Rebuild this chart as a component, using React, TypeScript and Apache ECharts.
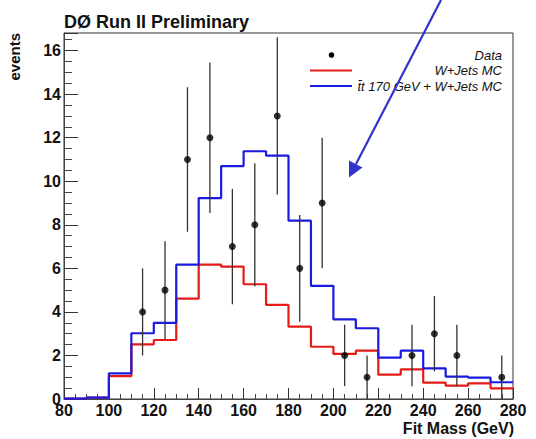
import React, { useEffect, useRef } from "react";
import * as echarts from "echarts";

// Histogram bin lower edges (GeV), bins 10 GeV wide, last upper edge 280
const binLowEdges = [80, 90, 100, 110, 120, 130, 140, 150, 160, 170, 180, 190, 200, 210, 220, 230, 240, 250, 260, 270];
const lastEdge = 280;
const wJetsMC = [0.02, 0.06, 1.05, 2.51, 2.71, 4.61, 6.17, 6.08, 5.27, 4.32, 3.32, 2.4, 2.07, 2.22, 1.12, 1.36, 0.75, 0.61, 0.72, 0.49];
const ttPlusWJetsMC = [0.02, 0.06, 1.18, 3.02, 3.5, 6.17, 9.23, 10.7, 11.38, 11.18, 8.19, 5.2, 3.66, 3.25, 1.9, 2.22, 1.41, 1.03, 0.98, 0.77];

// Data points (bin centres), counts and error bars
const dataX = [115, 125, 135, 145, 155, 165, 175, 185, 195, 205, 215, 235, 245, 255, 275];
const dataY = [4, 5, 11, 12, 7, 8, 13, 6, 9, 2, 1, 2, 3, 2, 1];
const dataErr = [2, 2.24, 3.32, 3.46, 2.65, 2.83, 3.61, 2.45, 3, 1.41, 1, 1.41, 1.73, 1.41, 1];

const title = "D\u00d8 Run II Preliminary";
const xTitle = "Fit Mass (GeV)";
const yTitle = "events";
const legendNames = ["Data", "W+Jets MC", "t\u0304t 170 GeV + W+Jets MC"];

const RED = "#e41b17";
const BLUE = "#1a1ae0";
const FONT = "Liberation Sans, Arial, Helvetica, sans-serif";

function stepData(vals: number[]) {
  const d = binLowEdges.map((e, i) => [e, vals[i]]);
  d.push([lastEdge, vals[vals.length - 1]]);
  return d;
}

export default function App() {
  const ref = useRef<HTMLDivElement>(null);
  useEffect(() => {
    document.body.style.margin = "0";
    const chart = echarts.init(ref.current!, null, { renderer: "svg" });
    const legendText = (text: string, y: number) => ({
      type: "text",
      x: 502,
      y,
      style: {
        text,
        fontFamily: FONT,
        fontSize: 13,
        fontStyle: "italic",
        fill: "#111",
        textAlign: "right",
        textVerticalAlign: "middle",
      },
    });
    const option: any = {
      animation: false,
      backgroundColor: "#ffffff",
      title: {
        text: title,
        left: 59,
        top: 8,
        textStyle: { fontFamily: FONT, fontSize: 18, fontWeight: "bold", color: "#111", lineHeight: 18 },
      },
      grid: {
        left: 64,
        right: 23,
        top: 33,
        bottom: 40,
        show: true,
        borderColor: "#333",
        borderWidth: 1,
        backgroundColor: "transparent",
      },
      xAxis: {
        type: "value",
        min: 80,
        max: 280,
        interval: 20,
        axisLine: { show: true, lineStyle: { color: "#444", width: 1 } },
        axisTick: { show: true, inside: true, length: 11, lineStyle: { color: "#333" } },
        minorTick: { show: true, splitNumber: 4, length: 5, lineStyle: { color: "#444" } },
        splitLine: { show: false },
        axisLabel: {
          fontFamily: FONT,
          fontSize: 16,
          fontWeight: "bold",
          color: "#111",
          margin: 5,
          lineHeight: 13,
        },
      },
      yAxis: {
        type: "value",
        min: 0,
        max: 16.81,
        interval: 2,
        axisLine: { show: true, lineStyle: { color: "#444", width: 1 } },
        axisTick: { show: true, inside: true, length: 14, lineStyle: { color: "#333" } },
        minorTick: { show: true, splitNumber: 4, length: 8, lineStyle: { color: "#444" } },
        splitLine: { show: false },
        axisLabel: {
          fontFamily: FONT,
          fontSize: 16,
          fontWeight: "bold",
          color: "#111",
          margin: 3,
          lineHeight: 10,
          showMaxLabel: false,
        },
      },
      graphic: [
        {
          type: "text",
          x: 14,
          y: 33,
          rotation: Math.PI / 2,
          style: {
            text: yTitle,
            fontFamily: FONT,
            fontSize: 15,
            fontWeight: "bold",
            fill: "#111",
            textAlign: "right",
            textVerticalAlign: "middle",
          },
        },
        {
          type: "text",
          x: 514,
          y: 428,
          style: {
            text: xTitle,
            fontFamily: FONT,
            fontSize: 16,
            lineHeight: 13,
            fontWeight: "bold",
            fill: "#111",
            textAlign: "right",
            textVerticalAlign: "middle",
          },
        },
        // legend
        { type: "circle", shape: { cx: 331.5, cy: 55, r: 2.8 }, style: { fill: "#000" } },
        { type: "line", shape: { x1: 310, y1: 70.5, x2: 352, y2: 70.5 }, style: { stroke: RED, lineWidth: 2 } },
        { type: "line", shape: { x1: 310, y1: 86, x2: 352, y2: 86 }, style: { stroke: BLUE, lineWidth: 2 } },
        legendText(legendNames[0], 55),
        legendText(legendNames[1], 70.5),
        legendText(legendNames[2], 86.5),
        // annotation arrow
        {
          type: "line",
          shape: { x1: 441, y1: 0, x2: 356, y2: 164 },
          style: { stroke: "#3333cc", lineWidth: 2.2 },
          z: 100,
        },
        {
          type: "polygon",
          shape: { points: [[349, 177.5], [349, 160.5], [362.5, 167.5]] },
          style: { fill: "#3333cc" },
          z: 100,
        },
      ],
      series: [
        {
          name: legendNames[1],
          type: "line",
          step: "end",
          data: stepData(wJetsMC),
          symbol: "none",
          lineStyle: { color: RED, width: 2.2 },
          z: 3,
        },
        {
          name: legendNames[2],
          type: "line",
          step: "end",
          data: stepData(ttPlusWJetsMC),
          symbol: "none",
          lineStyle: { color: BLUE, width: 2.2 },
          z: 4,
        },
        {
          name: legendNames[0] + " errors",
          type: "custom",
          data: dataX.map((x, i) => [x, dataY[i], dataErr[i]]),
          encode: { x: 0, y: 1 },
          renderItem: (params: any, api: any) => {
            const x = api.value(0);
            const y = api.value(1);
            const e = api.value(2);
            const p1 = api.coord([x, y + e]);
            const p2 = api.coord([x, y - e]);
            return {
              type: "line",
              shape: { x1: p1[0], y1: p1[1], x2: p2[0], y2: p2[1] },
              style: { stroke: "#333", lineWidth: 1.3 },
            };
          },
          z: 5,
        },
        {
          name: legendNames[0],
          type: "scatter",
          data: dataX.map((x, i) => [x, dataY[i]]),
          symbol: "circle",
          symbolSize: 7,
          itemStyle: { color: "#000" },
          z: 6,
        },
      ],
    };
    chart.setOption(option);
    return () => chart.dispose();
  }, []);
  return <div ref={ref} style={{ width: 536, height: 439 }} />;
}
